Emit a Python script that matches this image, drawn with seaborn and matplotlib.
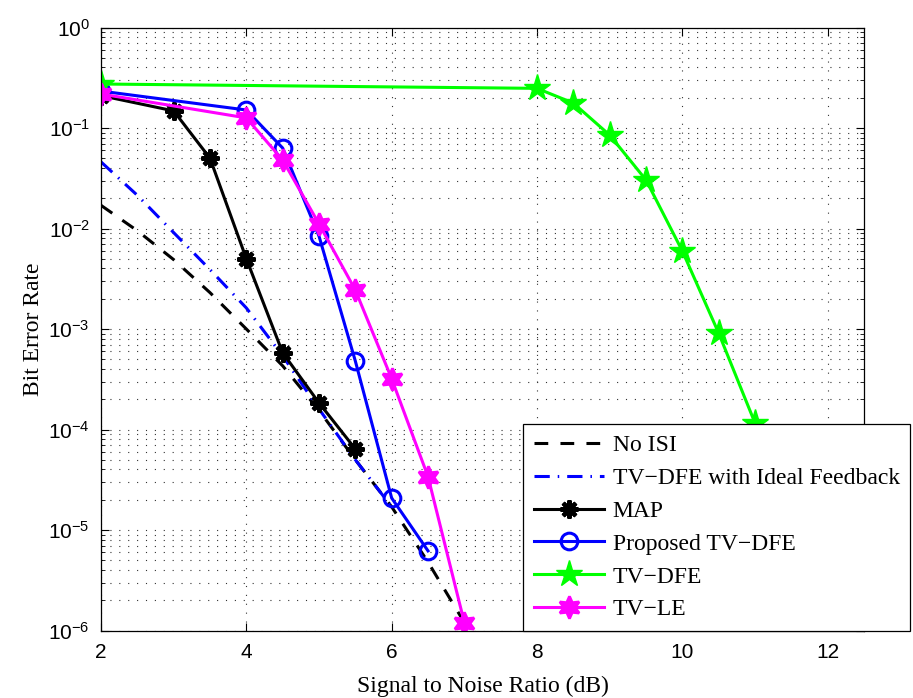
import matplotlib
matplotlib.use("Agg")
import matplotlib.pyplot as plt
import seaborn as sns
from matplotlib.ticker import LogLocator, NullFormatter, FixedLocator

# ---- data ----
snr_noisi = [2, 2.5, 3, 3.5, 4, 4.5, 5, 5.5, 6, 6.5, 7]
ber_noisi = [0.017, 0.0095, 0.0049, 0.0023, 0.00100, 4.3e-4, 1.55e-4, 5.0e-5, 1.7e-5, 4.8e-6, 1.2e-6]

snr_ideal = [2, 2.5, 3, 3.5, 4, 4.5, 5, 5.5, 6]
ber_ideal = [0.046, 0.0214, 0.0091, 0.0039, 0.00162, 5.4e-4, 1.6e-4, 5.0e-5, 1.7e-5]

snr_map = [2, 3, 3.5, 4, 4.5, 5, 5.5]
ber_map = [0.21, 0.148, 0.050, 0.0050, 5.8e-4, 1.84e-4, 6.4e-5]

snr_prop = [2, 4, 4.5, 5, 5.5, 6, 6.5]
ber_prop = [0.233, 0.151, 0.0632, 0.0084, 4.8e-4, 2.08e-5, 6.2e-6]

snr_tvdfe = [2, 8, 8.5, 9, 9.5, 10, 10.5, 11]
ber_tvdfe = [0.274, 0.248, 0.177, 0.085, 0.0304, 0.00597, 9.1e-4, 1.16e-4]

snr_tvle = [2, 4, 4.5, 5, 5.5, 6, 6.5, 7]
ber_tvle = [0.218, 0.126, 0.048, 0.0111, 0.00244, 3.2e-4, 3.4e-5, 1.2e-6]

labels = ["No ISI", "TV\u2212DFE with Ideal Feedback", "MAP", "Proposed TV\u2212DFE",
          "TV\u2212DFE", "TV\u2212LE"]
x_ticks = [2, 4, 6, 8, 10, 12]

plt.rcParams["font.family"] = "sans-serif"
plt.rcParams["font.sans-serif"] = ["Liberation Sans", "DejaVu Sans"]

W, H = 913, 698
fig = plt.figure(figsize=(W / 100, H / 100), dpi=100)
ax = fig.add_axes([101 / W, 1 - 630.5 / H, (864 - 101) / W, (630.5 - 27.5) / H])
ax.set_yscale("log")

lw = 2.2
sns.lineplot(x=snr_noisi, y=ber_noisi, ax=ax, color="k", lw=lw,
             linestyle=(0, (4.5, 4)), label=labels[0], estimator=None)
sns.lineplot(x=snr_ideal, y=ber_ideal, ax=ax, color="#0000ff", lw=lw,
             linestyle=(0, (5, 2.6, 0.5, 2.6)), label=labels[1], estimator=None)
sns.lineplot(x=snr_map, y=ber_map, ax=ax, color="k", lw=lw, marker=(8, 2, 0),
             markersize=13, markeredgewidth=3.0, markeredgecolor="k",
             label=labels[2], estimator=None)
sns.lineplot(x=snr_prop, y=ber_prop, ax=ax, color="#0000ff", lw=lw, marker="o",
             markersize=12, markerfacecolor="none", markeredgewidth=2.2,
             markeredgecolor="#0000ff", label=labels[3], estimator=None)
sns.lineplot(x=snr_tvdfe, y=ber_tvdfe, ax=ax, color="#00ff00", lw=lw, marker="*",
             markersize=20, markerfacecolor="#00ff00", markeredgewidth=1.0,
             markeredgecolor="#00ff00", label=labels[4], estimator=None)
sns.lineplot(x=snr_tvle, y=ber_tvle, ax=ax, color="#ff00ff", lw=lw, marker=(6, 1, 0),
             markersize=16, markerfacecolor="#ff00ff", markeredgewidth=2.0,
             markeredgecolor="#ff00ff", label=labels[5], estimator=None)

ax.set_xlim(2, 12.5)
ax.set_ylim(1e-6, 1)
ax.xaxis.set_major_locator(FixedLocator(x_ticks))
ax.yaxis.set_major_locator(LogLocator(base=10, numticks=10))
ax.yaxis.set_minor_locator(LogLocator(base=10, subs=[2, 3, 4, 5, 6, 7, 8, 9], numticks=20))
ax.yaxis.set_minor_formatter(NullFormatter())

grid_kw = dict(color="#333333", linestyle=(0, (1, 7)), linewidth=0.8)
ax.grid(True, which="major", axis="x", **grid_kw)
ax.grid(True, which="both", axis="y", **grid_kw)
ax.set_axisbelow(True)

ax.tick_params(which="both", direction="in", top=True, right=True, labelsize=15)
ax.tick_params(which="major", length=6, width=0.8)
ax.tick_params(which="minor", length=3, width=0.6)
ax.tick_params(axis="x", pad=9)
ax.tick_params(axis="y", pad=8)
for s in ax.spines.values():
    s.set_linewidth(0.9)
    s.set_color("k")

ax.set_xlabel("Signal to Noise Ratio (dB)", fontfamily="Liberation Serif", fontsize=17, labelpad=10)
ax.set_ylabel("Bit Error Rate", fontfamily="Liberation Serif", fontsize=17, labelpad=3)

handles, labs = ax.get_legend_handles_labels()
leg = ax.legend(handles, labs, loc="lower left", bbox_to_anchor=(523 / W, 1 - 631 / H),
                bbox_transform=fig.transFigure, prop={"family": "Liberation Serif", "size": 17},
                frameon=True, fancybox=False, edgecolor="k", framealpha=1,
                borderaxespad=0, handlelength=3.0, handletextpad=0.35,
                labelspacing=0.48, borderpad=0.45, numpoints=1)
leg.get_frame().set_linewidth(0.9)
leg.set_zorder(10)

fig.savefig("out.png", dpi=100)
